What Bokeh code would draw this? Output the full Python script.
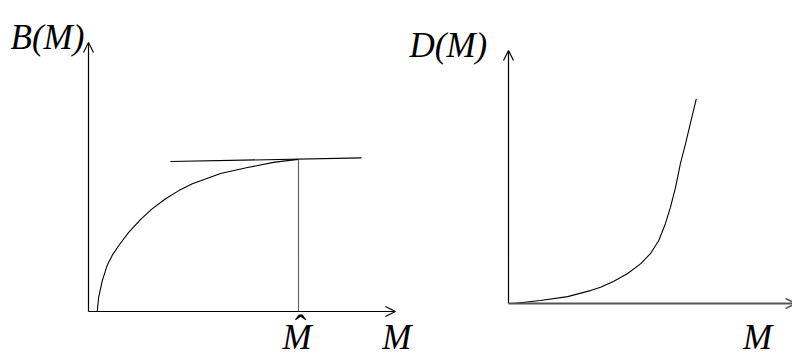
from bokeh.plotting import figure
from bokeh.models import Range1d, Arrow, OpenHead
from bokeh.core.properties import value
from bokeh.embed import file_html
from bokeh.resources import INLINE

# ---- data (abstract units) ----
# Left panel: benefit curve B(M)
M_b = [0.29, 0.34, 0.46, 0.62, 0.79, 1.01, 1.34, 1.73, 2.12, 2.57, 3.01, 3.46, 3.90, 4.40, 5.30, 6.17, 6.63, 7.00]
B_vals = [0.00, 0.48, 1.03, 1.53, 1.87, 2.20, 2.64, 3.06, 3.42, 3.76, 4.03, 4.26, 4.42, 4.60, 4.80, 4.97, 5.03, 5.07]
M_hat = 7.0
B_hat = 5.07
tangent_M = [2.73, 9.10]
tangent_B = [5.00, 5.12]
left_x_axis_end = 10.23
left_y_axis_end = 8.97

# Right panel: damage curve D(M)
M_d = [0.15, 1.07, 1.97, 2.73, 3.07, 3.51, 3.96, 4.40, 4.73, 5.01, 5.23, 5.40, 5.57, 5.73, 5.90, 6.07, 6.26]
D_vals = [0.00, 0.10, 0.23, 0.43, 0.54, 0.74, 0.99, 1.32, 1.66, 2.10, 2.66, 3.21, 3.88, 4.66, 5.32, 6.04, 6.82]
right_x_axis_end = 9.57
right_y_axis_end = 8.43

label_B = "B(M)"
label_D = "D(M)"
label_M = "M"
label_hat = "\u02c6"

FONT = value("Liberation Serif")
FS = "35px"

W, H = 792, 356
p = figure(width=W, height=H, output_backend="svg", toolbar_location=None,
           x_range=Range1d(-88 / 30, 704 / 30), y_range=Range1d(-45 / 30, 311 / 30),
           min_border=0, min_border_left=0, min_border_right=0,
           min_border_top=0, min_border_bottom=0)
p.extra_x_ranges = {"r": Range1d(-508 / 30, 284 / 30)}
p.extra_y_ranges = {"r": Range1d(-53 / 30, 303 / 30)}
p.axis.visible = False
p.grid.visible = False
p.outline_line_color = None
p.background_fill_color = "white"
p.border_fill_color = "white"

# ---- left panel ----
p.add_layout(Arrow(end=OpenHead(size=10, line_width=1.2, line_color="black"),
                   x_start=0, y_start=0, x_end=0, y_end=left_y_axis_end,
                   line_color="black", line_width=1.2))
p.add_layout(Arrow(end=OpenHead(size=10, line_width=1.2, line_color="black"),
                   x_start=0, y_start=0, x_end=left_x_axis_end, y_end=0,
                   line_color="black", line_width=1.2))
p.line(M_b, B_vals, line_color="black", line_width=1.1)
p.line(tangent_M, tangent_B, line_color="black", line_width=1.1)
p.segment(x0=[M_hat], y0=[0], x1=[M_hat], y1=[B_hat], line_color="#666666", line_width=1.2)

p.text(x=[-2.6], y=[9.13], text=[label_B], text_font=FONT, text_font_style="italic",
       text_font_size=FS, text_baseline="alphabetic", text_align="left", text_color="black")
p.text(x=[M_hat - 0.05, left_x_axis_end + 0.05], y=[-0.85, -0.85], text=[label_M, label_M],
       text_font=FONT, text_font_style="italic", text_font_size=FS,
       text_baseline="alphabetic", text_align="center", text_color="black")
p.text(x=[M_hat + 0.07], y=[-0.58], text=[label_hat], text_font=FONT,
       text_font_size=FS, text_baseline="alphabetic", text_align="center", text_color="black")

# ---- right panel ----
p.add_layout(Arrow(end=OpenHead(size=10, line_width=1.2, line_color="black"),
                   x_start=0, y_start=0, x_end=0, y_end=right_y_axis_end,
                   line_color="black", line_width=1.2,
                   x_range_name="r", y_range_name="r"))
p.add_layout(Arrow(end=OpenHead(size=10, line_width=1.5, line_color="#555555"),
                   x_start=0, y_start=0, x_end=right_x_axis_end, y_end=0,
                   line_color="#555555", line_width=2,
                   x_range_name="r", y_range_name="r"))
p.line(M_d, D_vals, line_color="black", line_width=1.1, x_range_name="r", y_range_name="r")

p.text(x=[-3.3], y=[8.6], text=[label_D], text_font=FONT, text_font_style="italic",
       text_font_size=FS, text_baseline="alphabetic", text_align="left", text_color="black",
       x_range_name="r", y_range_name="r")
p.text(x=[8.3], y=[-1.12], text=[label_M], text_font=FONT, text_font_style="italic",
       text_font_size=FS, text_baseline="alphabetic", text_align="center", text_color="black",
       x_range_name="r", y_range_name="r")

open("out.html", "w").write(file_html(p, INLINE))
